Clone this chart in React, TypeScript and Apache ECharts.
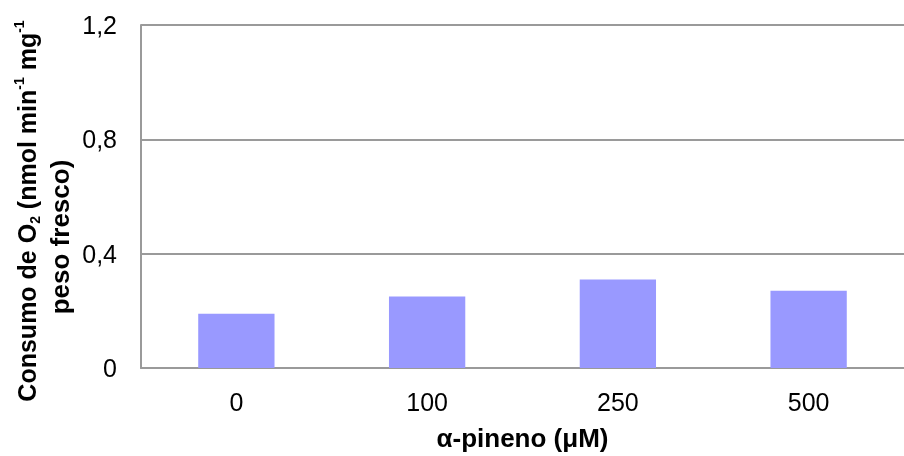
import React, { useEffect, useRef } from "react";
import * as echarts from "echarts";

const categories = ["0", "100", "250", "500"];
const consumo = [0.19, 0.25, 0.31, 0.27];
const yTicks = { min: 0, max: 1.2, interval: 0.4 };
const xTitle = "α-pineno (μM)";

const FONT = "'Liberation Sans', Arial, sans-serif";

export default function App() {
  const ref = useRef<HTMLDivElement>(null);
  useEffect(() => {
    if (!ref.current) return;
    const chart = echarts.init(ref.current, null, { renderer: "svg" });
    const main = { fontSize: 25, fontWeight: "bold", fontFamily: FONT, color: "#000", lineHeight: 30, verticalAlign: "middle" };
    const small = { fontSize: 14, fontWeight: "bold", fontFamily: FONT, color: "#000", lineHeight: 14 };
    chart.setOption({
      animation: false,
      grid: { left: 141, right: 0, top: 25, bottom: 83, containLabel: false },
      xAxis: {
        type: "category",
        data: categories,
        axisLine: { show: true, lineStyle: { color: "#9a9a9a", width: 2 } },
        axisTick: { show: false },
        axisLabel: { fontSize: 25, color: "#000", fontFamily: FONT, margin: 21 },
        name: xTitle,
        nameLocation: "middle",
        nameGap: 57,
        nameTextStyle: { fontSize: 26, fontWeight: "bold", color: "#000", fontFamily: FONT },
      },
      yAxis: {
        type: "value",
        min: yTicks.min,
        max: yTicks.max,
        interval: yTicks.interval,
        axisLine: { show: true, lineStyle: { color: "#9a9a9a", width: 2 } },
        axisTick: { show: false },
        splitLine: { show: true, lineStyle: { color: "#9a9a9a", width: 2 } },
        axisLabel: {
          fontSize: 25,
          color: "#000",
          fontFamily: FONT,
          margin: 24,
          formatter: (v: number) => (v === 0 ? "0" : v.toFixed(1).replace(".", ",")),
        },
      },
      series: [
        {
          type: "bar",
          data: consumo,
          barWidth: "40%",
          itemStyle: { color: "#9999ff" },
        },
      ],
      graphic: [
        {
          type: "text",
          x: 27,
          y: 211,
          rotation: Math.PI / 2,
          style: {
            text: "{m|Consumo de O}{sub|2}{m| (nmol min}{sup|-1}{m| mg}{sup|-1}",
            rich: {
              m: main,
              sub: { ...small, verticalAlign: "bottom" },
              sup: { ...small, verticalAlign: "top" },
            },
            align: "center",
            verticalAlign: "middle",
          },
        },
        {
          type: "text",
          x: 60,
          y: 237,
          rotation: Math.PI / 2,
          style: {
            text: "peso fresco)",
            fontSize: 26,
            fontWeight: "bold",
            fontFamily: FONT,
            fill: "#000",
            align: "center",
            verticalAlign: "middle",
          },
        },
      ],
    });
    return () => chart.dispose();
  }, []);
  return <div ref={ref} style={{ position: "fixed", left: 0, top: 0, width: 904, height: 456 }} />;
}
